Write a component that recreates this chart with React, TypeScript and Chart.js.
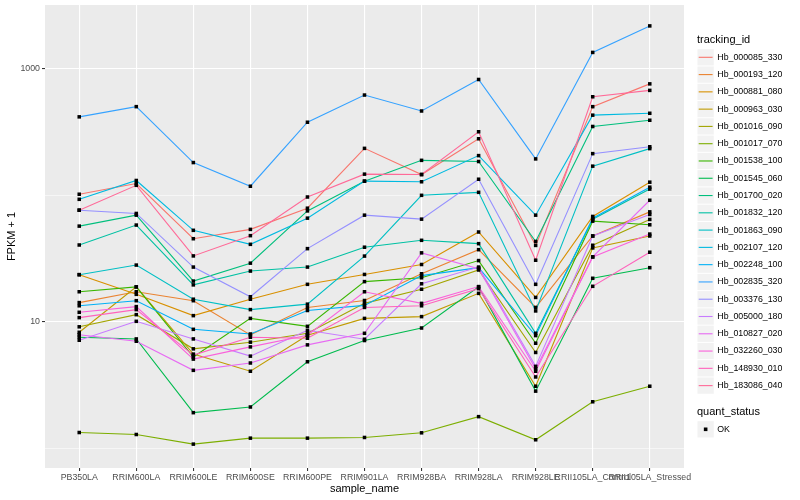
import React, { useEffect, useRef } from "react";
import { Chart, registerables } from "chart.js";

Chart.register(...registerables);

// ---------- data ----------
const categories = [
  "PB350LA",
  "RRIM600LA",
  "RRIM600LE",
  "RRIM600SE",
  "RRIM600PE",
  "RRIM901LA",
  "RRIM928BA",
  "RRIM928LA",
  "RRIM928LE",
  "RRII105LA_Control",
  "RRII105LA_Stressed",
];

const seriesNames = [
  "Hb_000085_330",
  "Hb_000193_120",
  "Hb_000881_080",
  "Hb_000963_030",
  "Hb_001016_090",
  "Hb_001017_070",
  "Hb_001538_100",
  "Hb_001545_060",
  "Hb_001700_020",
  "Hb_001832_120",
  "Hb_001863_090",
  "Hb_002107_120",
  "Hb_002248_100",
  "Hb_002835_320",
  "Hb_003376_130",
  "Hb_005000_180",
  "Hb_010827_020",
  "Hb_032260_030",
  "Hb_148930_010",
  "Hb_183086_040",
];

const seriesColors = [
  "#F8766D", "#EA8331", "#D89000", "#C09B00", "#A3A500",
  "#7CAE00", "#39B600", "#00BB4E", "#00BF7D", "#00C1A3",
  "#00BFC4", "#00BAE0", "#00B0F6", "#35A2FF", "#9590FF",
  "#C77CFF", "#E76BF3", "#FA62DB", "#FF62BC", "#FF6A98",
];

const s_000085_330 = [102, 124, 45.4, 53.8, 79.1, 235, 146, 280, 40.2, 502, 760];
const s_000193_120 = [14.2, 17.3, 14.7, 7.88, 13.0, 14.75, 24.0, 37.2, 13.0, 47.7, 74.0];
const s_000881_080 = [23.6, 16.5, 11.2, 15.1, 19.8, 23.7, 28.4, 51.3, 15.6, 68.1, 127];
const s_000963_030 = [8.27, 18.9, 5.56, 4.07, 7.84, 10.65, 11.0, 16.8, 3.1, 38.4, 47.7];
const s_001016_090 = [9.14, 11.4, 6.12, 6.91, 8.12, 14.0, 18.1, 25.7, 5.73, 40.3, 64.5];
const s_001017_070 = [1.335, 1.288, 1.081, 1.205, 1.205, 1.22, 1.328, 1.782, 1.17, 2.336, 3.1];
const s_001538_100 = [17.3, 18.9, 5.27, 10.65, 9.22, 20.8, 22.3, 30.5, 6.78, 62.5, 58.5];
const s_001545_060 = [7.56, 7.33, 1.916, 2.124, 4.84, 7.12, 8.94, 18.9, 2.835, 22.1, 26.8];
const s_001700_020 = [57.1, 69.7, 21.0, 29.1, 75.3, 129.4, 189, 185, 43.2, 350, 392];
const s_001832_120 = [40.5, 58.2, 19.6, 25.2, 27.1, 38.9, 44.1, 41.5, 8.12, 64.8, 112];
const s_001863_090 = [23.6, 28.1, 15.1, 12.5, 13.8, 33.1, 100, 105.6, 12.2, 170, 234];
const s_002107_120 = [93.0, 131, 52.9, 41.0, 66.0, 129.4, 128, 206, 69.7, 430, 445];
const s_002248_100 = [13.4, 14.7, 8.73, 8.02, 12.3, 13.5, 23.2, 26.8, 7.79, 66.0, 116];
const s_002835_320 = [417, 502, 181.5, 118, 378, 620, 464, 823, 194, 1347, 2182];
const s_003376_130 = [76.3, 71.9, 27.1, 15.8, 37.9, 69.7, 64.8, 134, 19.8, 213.5, 242];
const s_005000_180 = [7.16, 10.1, 7.33, 5.36, 8.58, 7.29, 20.0, 27.1, 4.45, 47.7, 70.6];
const s_010827_020 = [7.91, 7.03, 4.14, 4.73, 6.58, 8.12, 35.1, 26.3, 4.26, 32.6, 91.4];
const s_032260_030 = [11.9, 13.2, 5.08, 6.34, 7.84, 17.3, 14.0, 19.0, 4.07, 32.6, 49.4];
const s_148930_010 = [10.8, 12.5, 5.46, 7.56, 7.42, 13.0, 13.4, 18.3, 3.67, 19.1, 35.5];
const s_183086_040 = [76.3, 120, 33.2, 48.0, 97.0, 147, 146, 318, 30.7, 601, 675];

const seriesValues = [
  s_000085_330, s_000193_120, s_000881_080, s_000963_030, s_001016_090,
  s_001017_070, s_001538_100, s_001545_060, s_001700_020, s_001832_120,
  s_001863_090, s_002107_120, s_002248_100, s_002835_320, s_003376_130,
  s_005000_180, s_010827_020, s_032260_030, s_148930_010, s_183086_040,
];

const yTickValues = [1, 10, 100, 1000];
const yLabeledTicks = [10, 1000];
const quantStatus = ["OK"];

// ---------- styling ----------
const FONT = '"Liberation Sans", Arial, Helvetica, sans-serif';

const panelPlugin = {
  id: "ggPanel",
  beforeDraw(chart: any) {
    const { ctx, chartArea, width, height } = chart;
    ctx.save();
    ctx.fillStyle = "#FFFFFF";
    ctx.fillRect(0, 0, width, height);
    ctx.fillStyle = "#EBEBEB";
    ctx.fillRect(chartArea.left, chartArea.top, chartArea.right - chartArea.left, chartArea.bottom - chartArea.top);
    ctx.restore();
  },
};

const legendPlugin = {
  id: "ggLegend",
  afterDraw(chart: any) {
    const ctx = chart.ctx;
    const x0 = 697;
    const key = 17.28;
    ctx.save();
    ctx.textAlign = "left";
    ctx.textBaseline = "middle";
    ctx.fillStyle = "#000000";
    ctx.font = `11px ${FONT}`;
    ctx.fillText("tracking_id", x0, 40);
    ctx.font = `8.8px ${FONT}`;
    seriesNames.forEach((name, i) => {
      const cy = 57.3 + i * key;
      ctx.fillStyle = "#F2F2F2";
      ctx.fillRect(x0 + 0.5, cy - key / 2 + 0.5, key - 1, key - 1);
      ctx.strokeStyle = seriesColors[i];
      ctx.lineWidth = 1.1;
      ctx.beginPath();
      ctx.moveTo(x0 + 1.7, cy);
      ctx.lineTo(x0 + key - 1.7, cy);
      ctx.stroke();
      ctx.fillStyle = "#000000";
      ctx.fillText(name, x0 + key + 3, cy);
    });
    ctx.font = `11px ${FONT}`;
    ctx.fillText("quant_status", x0, 412.3);
    ctx.font = `8.8px ${FONT}`;
    quantStatus.forEach((q, i) => {
      const cy = 429.3 + i * key;
      ctx.fillStyle = "#F2F2F2";
      ctx.fillRect(x0 + 0.5, cy - key / 2 + 0.5, key - 1, key - 1);
      ctx.fillStyle = "#000000";
      ctx.fillRect(x0 + key / 2 - 1.8, cy - 1.8, 3.6, 3.6);
      ctx.fillText(q, x0 + key + 3, cy);
    });
    ctx.restore();
  },
};

export default function App() {
  const ref = useRef<HTMLCanvasElement | null>(null);

  useEffect(() => {
    if (!ref.current) return;
    const n = seriesNames.length;
    const lineSets = seriesNames.map((name, i) => ({
      label: name,
      data: seriesValues[i].map((v, j) => ({ x: j, y: v })),
      borderColor: seriesColors[i],
      backgroundColor: seriesColors[i],
      borderWidth: 1.1,
      pointRadius: 0,
      fill: false,
      tension: 0,
      order: n - i,
    }));
    const pointSet = {
      label: "points",
      data: seriesValues.flatMap((arr) => arr.map((v, j) => ({ x: j, y: v }))),
      showLine: false,
      pointStyle: "rect",
      pointRadius: 2.5,
      pointBackgroundColor: "#000000",
      pointBorderColor: "#000000",
      pointBorderWidth: 0,
      order: -1,
    };

    const chart = new Chart(ref.current, {
      type: "line",
      data: { datasets: [...lineSets, pointSet] as any },
      options: {
        animation: false,
        responsive: false,
        devicePixelRatio: 1,
        events: [],
        layout: { padding: { left: 0, top: 5, right: 116, bottom: 0 } },
        plugins: {
          legend: { display: false },
          tooltip: { enabled: false },
        },
        scales: {
          x: {
            type: "linear",
            min: -0.6,
            max: categories.length - 1 + 0.6,
            afterBuildTicks: (scale: any) => {
              scale.ticks = categories.map((_, i) => ({ value: i }));
            },
            afterFit: (scale: any) => {
              scale.height = 32;
              scale.paddingLeft = 0;
              scale.paddingRight = 0;
            },
            border: { display: false },
            grid: {
              color: "#FFFFFF",
              lineWidth: 1.1,
              tickColor: "#333333",
              tickLength: 3,
              tickWidth: 1.07,
            },
            ticks: {
              autoSkip: false,
              maxRotation: 0,
              minRotation: 0,
              padding: 1,
              color: "#4D4D4D",
              font: { family: FONT, size: 8.8 },
              callback: (v: any) => categories[Math.round(Number(v))] ?? "",
            },
            title: {
              display: true,
              text: "sample_name",
              color: "#000000",
              font: { family: FONT, size: 11 },
              padding: { top: 0, bottom: 4.4 },
            },
          },
          y: {
            type: "logarithmic",
            min: 0.7396,
            max: 3192,
            afterBuildTicks: (scale: any) => {
              scale.ticks = yTickValues.map((v) => ({ value: v }));
            },
            afterFit: (scale: any) => {
              scale.width = 45;
              scale.paddingTop = 0;
              scale.paddingBottom = 0;
            },
            border: { display: false },
            grid: {
              color: "#FFFFFF",
              lineWidth: (c: any) => (c.tick && yLabeledTicks.includes(c.tick.value) ? 1.1 : 0.55),
              tickColor: (c: any) => (c.tick && yLabeledTicks.includes(c.tick.value) ? "#333333" : "rgba(0,0,0,0)"),
              tickLength: 3,
              tickWidth: 1.07,
            },
            ticks: {
              padding: 2,
              color: "#4D4D4D",
              font: { family: FONT, size: 8.8 },
              callback: (v: any) => (yLabeledTicks.includes(Number(v)) ? String(v) : ""),
            },
            title: {
              display: true,
              text: "FPKM + 1",
              color: "#000000",
              font: { family: FONT, size: 11 },
              padding: { top: 5.4, bottom: 0 },
            },
          },
        },
      } as any,
      plugins: [panelPlugin, legendPlugin],
    });
    return () => chart.destroy();
  }, []);

  return (
    <div style={{ position: "fixed", left: 0, top: 0, width: 800, height: 500, background: "#FFFFFF" }}>
      <canvas ref={ref} width={800} height={500} style={{ display: "block", width: 800, height: 500 }} />
    </div>
  );
}
